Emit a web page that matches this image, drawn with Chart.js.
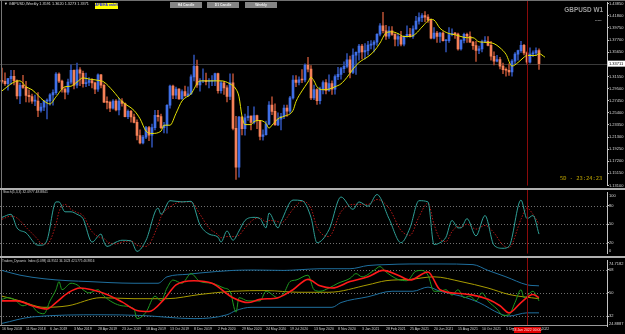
<!DOCTYPE html>
<html>
<head>
<meta charset="utf-8">
<title>GBPUSD Weekly</title>
<script src="https://cdn.jsdelivr.net/npm/chart.js@4.4.1/dist/chart.umd.min.js"></script>
<style>
  html, body { margin: 0; padding: 0; background: #000; }
  #screen { position: relative; width: 625px; height: 334px; overflow: hidden; background: #000;
            font-family: "Liberation Sans", "DejaVu Sans", sans-serif; }
  #screen canvas { position: absolute; left: 0; }
  .line { position: absolute; }
  .txt { position: absolute; white-space: nowrap; line-height: 1; }
  .btn { position: absolute; top: 2px; width: 32px; height: 6px; background: #858585; color: #f0f0f0;
         font-weight: bold; font-size: 3.4px; line-height: 6px; text-align: center; }
</style>
</head>
<body>
<div id="screen">
  <canvas id="price-chart" width="625" height="188" style="top:0"></canvas>
  <canvas id="stoch-chart" width="625" height="66" style="top:190px"></canvas>
  <canvas id="tdi-chart" width="625" height="76" style="top:258px"></canvas>

  <div class="line" style="left:0;top:0;width:625px;height:1px;background:#707070"></div>
  <div class="line" style="left:1px;top:0;width:1px;height:325px;background:#777"></div>
  <div class="line" style="left:0;top:188px;width:625px;height:2px;background:#b0b0b0"></div>
  <div class="line" style="left:0;top:256px;width:625px;height:2px;background:#b0b0b0"></div>
  <div class="line" style="left:0;top:325px;width:607px;height:1px;background:#9a9a9a"></div>

  <div class="txt" id="title" style="left:4px;top:3px;font-size:3.8px;color:#dcdcdc"></div>
  <div class="txt" style="left:95px;top:3px;width:23px;height:5.5px;background:#ffff00;color:#1414ff;font-weight:bold;font-size:3.3px;line-height:5.5px;text-align:center">APB/HA on/off</div>
  <div class="btn" style="left:170px">H4 Candle</div>
  <div class="btn" style="left:207px">D1 Candle</div>
  <div class="btn" style="left:245px">Weekly</div>
  <div class="txt" style="right:22px;top:7px;font-size:6.4px;font-weight:bold;color:#9c9c9c">GBPUSD W1</div>
  <div class="txt" style="left:595px;top:18px;font-size:4px;color:#c8c8c8">-----</div>
  <div class="txt" style="left:560px;top:176px;font-size:5.4px;color:#c2a800;font-family:'DejaVu Sans Mono',monospace">5D - 23:24:23</div>
  <div class="txt" style="left:3px;top:191px;font-size:3.4px;color:#d0d0d0">Stoch(5,3,3) 32.0977 48.8841</div>
  <div class="txt" style="left:2px;top:259.5px;font-size:3.1px;color:#d0d0d0">Traders_Dynamic_Index (0.098) 44.9552 34.1623 42.5775 46.9816</div>
</div>

<script>
// weekly bars, 16 Sep 2018 .. 20 Feb 2022
const tickWeeks = [0, 8, 16, 24, 32, 40, 48, 56, 64, 72, 80, 88, 96, 104, 112, 120, 128, 136, 144, 152, 160, 168, 176];
const dateLabels = ['16 Sep 2018', '11 Nov 2018', '6 Jan 2019', '3 Mar 2019', '28 Apr 2019', '23 Jun 2019',
  '18 Aug 2019', '13 Oct 2019', '8 Dec 2019', '2 Feb 2020', '29 Mar 2020', '24 May 2020', '19 Jul 2020',
  '13 Sep 2020', '8 Nov 2020', '3 Jan 2021', '28 Feb 2021', '25 Apr 2021', '20 Jun 2021', '15 Aug 2021',
  '10 Oct 2021', '5 Dec 2021', '30 Jan 2022'];

const openPrices = [
  1.3075,1.3070,1.3032,1.3118,1.3155,1.3085,1.2825,1.3003,1.2970,1.2834,
  1.2812,1.2736,1.2737,1.2580,1.2636,1.2737,1.2742,1.2843,1.2880,1.3193,
  1.3076,1.2939,1.2890,1.3058,1.3260,1.3007,1.3265,1.3209,1.3033,1.3052,
  1.3084,1.3045,1.2938,1.3180,1.3005,1.2720,1.2717,1.2620,1.2740,1.2590,
  1.2740,1.2697,1.2473,1.2566,1.2469,1.2378,1.2156,1.2032,1.2127,1.2288,
  1.2162,1.2289,1.2496,1.2474,1.2289,1.2326,1.2668,1.2990,1.2838,1.2940,
  1.2773,1.2897,1.2826,1.2859,1.3147,1.3326,1.3010,1.3074,1.3080,1.3067,
  1.3072,1.3077,1.3203,1.2916,1.3045,1.2962,1.2817,1.3047,1.2277,1.1621,
  1.2469,1.2270,1.2456,1.2484,1.2375,1.2493,1.2405,1.2138,1.2168,1.2347,
  1.2670,1.2565,1.2335,1.2430,1.2482,1.2620,1.2567,1.2793,1.3095,1.3053,
  1.3098,1.3094,1.3346,1.3278,1.2790,1.2932,1.2744,1.2939,1.3052,1.2917,
  1.3036,1.2940,1.3151,1.3189,1.3288,1.3325,1.3436,1.3223,1.3516,1.3562,
  1.3670,1.3568,1.3591,1.3685,1.3695,1.3736,1.3869,1.4012,1.3928,1.3835,
  1.3926,1.3867,1.3785,1.3831,1.3701,1.3834,1.3868,1.3830,1.3960,1.4090,
  1.4151,1.4186,1.4159,1.4110,1.3804,1.3890,1.3830,1.3890,1.3758,1.3760,
  1.3864,1.3885,1.3870,1.3621,1.3764,1.3868,1.3835,1.3735,1.3675,1.3595,
  1.3620,1.3746,1.3750,1.3680,1.3497,1.3412,1.3440,1.3330,1.3270,1.3260,
  1.3232,1.3413,1.3531,1.3591,1.3680,1.3553,1.3398,1.3535,1.3554,1.3591];
const highPrices = [
  1.3298,1.3215,1.3123,1.3258,1.3257,1.3097,1.3042,1.3175,1.3073,1.2928,
  1.2855,1.2840,1.2880,1.2700,1.2745,1.2775,1.2865,1.2930,1.3218,1.3215,
  1.3095,1.2960,1.3110,1.3350,1.3265,1.3380,1.3305,1.3245,1.3210,1.3135,
  1.3120,1.3060,1.3200,1.3190,1.3030,1.2810,1.2740,1.2765,1.2765,1.2785,
  1.2780,1.2710,1.2590,1.2580,1.2520,1.2420,1.2250,1.2160,1.2310,1.2310,
  1.2350,1.2580,1.2580,1.2520,1.2380,1.2680,1.3010,1.3010,1.2975,1.2950,
  1.2930,1.2990,1.2980,1.3180,1.3515,1.3430,1.3120,1.3285,1.3210,1.3120,
  1.3170,1.3210,1.3210,1.3070,1.3070,1.3000,1.3200,1.3200,1.2480,1.2480,
  1.2480,1.2520,1.2650,1.2490,1.2640,1.2500,1.2410,1.2250,1.2400,1.2730,
  1.2810,1.2690,1.2540,1.2530,1.2670,1.2670,1.2820,1.3170,1.3170,1.3150,
  1.3270,1.3370,1.3480,1.3340,1.3010,1.2950,1.2975,1.3080,1.3100,1.3180,
  1.3080,1.3180,1.3310,1.3310,1.3400,1.3540,1.3500,1.3620,1.3570,1.3700,
  1.3700,1.3710,1.3750,1.3760,1.3760,1.3880,1.4050,1.4241,1.4020,1.4000,
  1.4000,1.3880,1.3880,1.3920,1.3840,1.4010,1.3970,1.4010,1.4170,1.4230,
  1.4220,1.4250,1.4200,1.4130,1.3980,1.3920,1.3900,1.3910,1.3780,1.3980,
  1.3960,1.3900,1.3890,1.3780,1.3890,1.3890,1.3910,1.3750,1.3750,1.3670,
  1.3770,1.3830,1.3830,1.3750,1.3570,1.3510,1.3480,1.3380,1.3300,1.3370,
  1.3440,1.3560,1.3600,1.3750,1.3700,1.3570,1.3640,1.3590,1.3640,1.3620];
const lowPrices = [
  1.3040,1.3002,1.2922,1.3021,1.3011,1.2775,1.2696,1.2950,1.2723,1.2720,
  1.2700,1.2660,1.2476,1.2550,1.2575,1.2438,1.2670,1.2670,1.2850,1.3050,
  1.2890,1.2773,1.2850,1.3030,1.2945,1.2960,1.3000,1.2975,1.2980,1.3000,
  1.2960,1.2865,1.2900,1.2960,1.2710,1.2605,1.2560,1.2600,1.2570,1.2505,
  1.2650,1.2470,1.2440,1.2380,1.2370,1.2080,1.2015,1.2015,1.2100,1.2070,
  1.1960,1.2250,1.2400,1.2270,1.2200,1.2195,1.2620,1.2780,1.2780,1.2765,
  1.2770,1.2820,1.2820,1.2850,1.3080,1.2970,1.2905,1.3050,1.3010,1.2960,
  1.3000,1.3000,1.2870,1.2870,1.2850,1.2725,1.2760,1.2250,1.1412,1.1450,
  1.2165,1.2160,1.2410,1.2250,1.2350,1.2270,1.2080,1.2075,1.2160,1.2340,
  1.2510,1.2330,1.2320,1.2250,1.2440,1.2480,1.2530,1.2770,1.2980,1.3010,
  1.3050,1.3060,1.3230,1.2760,1.2760,1.2680,1.2690,1.2860,1.2860,1.2900,
  1.2850,1.2855,1.3100,1.3110,1.3220,1.3300,1.3130,1.3200,1.3190,1.3430,
  1.3450,1.3450,1.3520,1.3620,1.3570,1.3680,1.3840,1.3890,1.3780,1.3800,
  1.3850,1.3670,1.3670,1.3670,1.3670,1.3820,1.3820,1.3800,1.3950,1.4040,
  1.4080,1.4080,1.4070,1.3790,1.3790,1.3730,1.3730,1.3750,1.3570,1.3730,
  1.3840,1.3800,1.3600,1.3600,1.3720,1.3730,1.3730,1.3610,1.3410,1.3540,
  1.3570,1.3730,1.3670,1.3430,1.3350,1.3400,1.3280,1.3200,1.3160,1.3170,
  1.3160,1.3370,1.3430,1.3560,1.3520,1.3360,1.3380,1.3490,1.3510,1.3273];
const closePrices = [
  1.3070,1.3032,1.3118,1.3155,1.3085,1.2825,1.3003,1.2970,1.2834,1.2812,
  1.2736,1.2737,1.2580,1.2636,1.2737,1.2742,1.2843,1.2880,1.3193,1.3076,
  1.2939,1.2890,1.3058,1.3260,1.3007,1.3265,1.3209,1.3033,1.3052,1.3084,
  1.3045,1.2938,1.3180,1.3005,1.2720,1.2717,1.2620,1.2740,1.2590,1.2740,
  1.2697,1.2473,1.2566,1.2469,1.2378,1.2156,1.2032,1.2127,1.2288,1.2162,
  1.2289,1.2496,1.2474,1.2289,1.2326,1.2668,1.2990,1.2838,1.2940,1.2773,
  1.2897,1.2826,1.2859,1.3147,1.3326,1.3010,1.3074,1.3080,1.3067,1.3072,
  1.3077,1.3203,1.2916,1.3045,1.2962,1.2817,1.3047,1.2277,1.1621,1.2469,
  1.2270,1.2456,1.2484,1.2375,1.2493,1.2405,1.2138,1.2168,1.2347,1.2670,
  1.2565,1.2335,1.2430,1.2482,1.2620,1.2567,1.2793,1.3095,1.3053,1.3098,
  1.3094,1.3346,1.3278,1.2790,1.2932,1.2744,1.2939,1.3052,1.2917,1.3036,
  1.2940,1.3151,1.3189,1.3288,1.3325,1.3436,1.3223,1.3516,1.3562,1.3670,
  1.3568,1.3591,1.3685,1.3695,1.3736,1.3869,1.4012,1.3928,1.3835,1.3926,
  1.3867,1.3785,1.3831,1.3701,1.3834,1.3868,1.3830,1.3960,1.4090,1.4151,
  1.4186,1.4159,1.4110,1.3804,1.3890,1.3830,1.3890,1.3758,1.3760,1.3864,
  1.3885,1.3870,1.3621,1.3764,1.3868,1.3835,1.3735,1.3675,1.3595,1.3620,
  1.3746,1.3750,1.3680,1.3497,1.3412,1.3440,1.3330,1.3270,1.3260,1.3232,
  1.3413,1.3531,1.3591,1.3680,1.3553,1.3398,1.3535,1.3554,1.3591,1.3371];

// yellow average on the price panel
const maWeeks = [0,4,6,8,10,14,16,18,21,23,25,27,29,33,34,37,40,44,46,48,50,53,54,56,58,60,63,66,69,73,
  76,78,79,80,81,83,84,86,88,89,90,92,94,97,98,100,102,103,104,105,107,109,111,113,115,117,119,122,124,126,
  128,130,132,134,136,138,140,143,144,146,149,151,153,155,157,159,162,164,166,168,170,172,174,175,178,179,181];
const maValues = [1.291,1.306,1.308,1.298,1.293,1.274,1.269,1.281,1.298,1.299,1.306,1.313,1.311,1.308,1.306,
  1.291,1.273,1.258,1.244,1.223,1.219,1.223,1.233,1.233,1.253,1.274,1.286,1.308,1.308,1.308,1.303,1.294,1.281,
  1.248,1.234,1.234,1.239,1.241,1.236,1.228,1.233,1.244,1.248,1.258,1.273,1.291,1.306,1.314,1.308,1.298,1.293,
  1.294,1.298,1.303,1.314,1.328,1.339,1.349,1.358,1.372,1.389,1.391,1.388,1.383,1.383,1.388,1.399,1.412,1.411,
  1.397,1.388,1.386,1.383,1.381,1.381,1.374,1.373,1.371,1.364,1.353,1.333,1.339,1.348,1.351,1.351,1.354,1.348];

const priceTicks = [1.4385, 1.418, 1.3975, 1.377, 1.3565, 1.3155, 1.295, 1.2745, 1.254, 1.2335, 1.213, 1.1925, 1.172, 1.1515, 1.131];
const bidPrice = 1.33711;
const markerWeek = 175;

// stochastic (5,3,3)
const stochWeeks = [0,3,5,8,12,13,15,18,19,21,23,25,27,30,33,34,35,38,40,43,45,48,52,53,56,60,63,66,69,72,
  73,75,77,79,81,84,86,88,89,92,93,97,100,103,105,109,113,117,119,122,125,129,133,136,139,142,144,146,148,150,
  152,153,155,158,161,164,167,169,173,175,177,179];
const stochMain = [61,66,44,36,16,16,24,86,86,70,70,66,59,21,34,21,14,21,24,23,6,24,76,66,88,86,87,49,34,29,
  21,39,24,39,56,61,59,44,68,44,54,89,88,61,20,41,94,74,86,79,98,59,20,44,88,86,17,20,29,56,
  44,44,59,31,64,16,11,14,89,59,64,34];
const stochSignal = [58,63,60,45,25,19,18,50,70,82,74,69,64,38,28,27,22,18,21,23,16,14,48,62,78,86,86,66,44,33,
  28,30,30,32,44,58,60,54,56,54,52,74,87,76,45,30,70,82,82,82,90,76,40,32,62,84,50,26,22,38,
  46,45,50,42,48,36,16,12,58,76,66,50];
const stochLevels = [80, 50, 20];

// Traders Dynamic Index
const tdiUpperWeeks = [0,6,14,22,29,36,44,52,55,62,66,77,84,94,99,106,116,122,128,136,146,157,162,168,175,179];
const tdiUpper = [67.5,63.8,61,59.5,58.8,58,57.5,57.5,62.5,64.5,65.5,67.5,67.8,67.5,68,68.8,68.8,71.3,72,72.5,72.5,72,67.5,62.5,56.3,55.5];
const tdiLowerWeeks = [0,10,33,46,64,75,78,83,110,113,122,130,137,142,146,153,159,166,169,175,179];
const tdiLower = [26.3,31.3,33,32.5,30,33,36.3,38.8,38.8,42.5,47,51.3,51.3,54.5,51.3,47.5,42.5,33.8,32,34.5,34.5];
const tdiBaseWeeks = [0,6,14,22,33,44,55,66,77,88,99,109,122,128,136,144,153,162,169,179];
const tdiBase = [47.5,43.8,38.8,40,46.3,45.5,45.5,48.8,51.3,51.8,50.5,50.5,56.3,59.5,60.5,62.5,58.8,53.8,48.8,45.5];
const tdiSignalWeeks = [0,5,10,15,18,22,26,30,35,40,45,49,54,58,64,70,77,82,86,92,97,102,106,110,116,122,127,132,136,142,146,153,157,162,166,169,173,177,179];
const tdiSignal = [43.8,43.8,40,37.5,42.5,50,53.8,52.5,48.8,43,36.3,35.5,45,56.3,59.5,57.5,46.3,42.5,45,46.3,52.5,60.5,55.5,53.8,58.8,62.5,67.5,63.8,60,66.3,52.5,49.5,48.3,45,40,34.5,42.5,48.8,46.3];
const tdiRsiWeeks = [0,2,4,7,9,12,14,16,18,19,20,23,25,27,29,32,34,37,40,44,45,48,51,53,55,57,60,63,66,70,
  74,76,78,79,82,86,88,92,94,96,98,102,104,106,109,112,116,118,120,124,126,128,132,135,138,140,142,144,146,148,
  150,152,154,156,158,160,162,165,167,169,171,173,174,177,179];
const tdiRsi = [45,46.3,45,40,41.3,35,33.8,43.8,52.5,58.8,52.5,57.5,56.3,52.5,50,52.5,47.5,42.5,40,37.5,
  30,35,47.5,43.8,53.8,60,57.5,65,58.8,57.5,53.8,51.3,35,46.3,43.8,43.8,51.3,46.3,50,58.8,
  60,63.8,52.5,51.3,53.8,57.5,61.3,65,62.5,67.5,70.5,66.3,60.5,59.5,67,67.5,63.8,51.3,51.3,52.5,
  48.3,52.5,46.3,47.5,43.8,50,43.8,37.5,32.5,33,42.5,52.5,46.3,51.3,43.8];
const tdiLevels = [68, 50, 32];

const uiFont = '"Liberation Sans", "DejaVu Sans", sans-serif';
const xMin = -0.667, xMax = 201.667;   // 3 px per weekly bar

const weekIndex = closePrices.map((_, i) => i);
const pairs = (xs, ys) => xs.map((x, k) => ({ x, y: ys[k] }));
const last = closePrices.length - 1;
document.getElementById('title').textContent = '\u25BC GBPUSD,Weekly  ' +
  [openPrices[last], highPrices[last], lowPrices[last], closePrices[last]].map(v => v.toFixed(4)).join(' ');

// dotted levels, bid line, red time line, edge labels
const decor = {
  id: 'decor',
  beforeDatasetsDraw(chart, args, opts) {
    const { ctx, chartArea: a, scales: { y } } = chart;
    ctx.save();
    ctx.lineWidth = 1;
    if (opts.levels) {
      ctx.strokeStyle = '#707070';
      ctx.setLineDash([1, 2]);
      opts.levels.forEach(v => {
        const py = Math.round(y.getPixelForValue(v)) + 0.5;
        ctx.beginPath(); ctx.moveTo(a.left, py); ctx.lineTo(a.right, py); ctx.stroke();
      });
      ctx.setLineDash([]);
    }
    if (opts.bid) {
      const py = Math.round(y.getPixelForValue(opts.bid)) + 0.5;
      ctx.strokeStyle = '#3a3a3a';
      ctx.beginPath(); ctx.moveTo(a.left, py); ctx.lineTo(a.right, py); ctx.stroke();
    }
    ctx.restore();
  },
  afterDatasetsDraw(chart) {
    const { ctx, chartArea: a, scales: { x } } = chart;
    const px = Math.round(x.getPixelForValue(markerWeek)) + 0.5;
    ctx.save();
    ctx.strokeStyle = '#8a0b0b';
    ctx.lineWidth = 1;
    ctx.beginPath(); ctx.moveTo(px, 0); ctx.lineTo(px, a.bottom); ctx.stroke();
    ctx.restore();
  },
  afterDraw(chart, args, opts) {
    const { ctx, chartArea: a, scales: { x, y } } = chart;
    ctx.save();
    ctx.font = '4px ' + uiFont;
    ctx.textBaseline = 'middle';
    ctx.textAlign = 'left';
    if (opts.edgeLabels) {
      ctx.fillStyle = '#d8d8d8';
      ctx.fillText(opts.edgeLabels[0], a.right + 2, a.top + 3);
      ctx.fillText(opts.edgeLabels[1], a.right + 2, a.bottom - 2.5);
    }
    if (opts.bid) {
      const py = y.getPixelForValue(opts.bid);
      ctx.fillStyle = '#ffffff';
      ctx.fillRect(a.right + 1, py - 3, 17, 6);
      ctx.fillStyle = '#000000';
      ctx.fillText(opts.bid.toFixed(5), a.right + 2, py);
    }
    if (opts.timeText) {
      const px = x.getPixelForValue(markerWeek);
      ctx.fillStyle = '#e00000';
      ctx.fillRect(px - 13, a.bottom + 1, 27, 6);
      ctx.fillStyle = '#ffd8d8';
      ctx.textAlign = 'center';
      ctx.font = '3.5px ' + uiFont;
      ctx.fillText(opts.timeText, px, a.bottom + 4);
    }
    ctx.restore();
  }
};

function rightAxis(min, max, ticks, fmt) {
  return {
    type: 'linear', position: 'right', min, max,
    afterFit: s => { s.width = 18; },
    afterBuildTicks: s => { s.ticks = ticks.map(v => ({ value: v })); },
    border: { display: true, color: '#c4c4c4', width: 1 },
    grid: { drawOnChartArea: false, color: '#c4c4c4', tickLength: 2 },
    ticks: { color: '#d8d8d8', font: { size: 4, family: uiFont }, padding: 0, autoSkip: false, callback: fmt }
  };
}
const hiddenX = { type: 'linear', min: xMin, max: xMax, display: false, offset: false };
const baseOptions = {
  responsive: false, animation: false, devicePixelRatio: 1, events: []
};

// price panel
new Chart(document.getElementById('price-chart'), {
  type: 'bar',
  data: {
    datasets: [
      { type: 'line', data: pairs(maWeeks, maValues), borderColor: '#e6e200', borderWidth: 1,
        pointRadius: 0, cubicInterpolationMode: 'monotone', order: 0 },
      { data: weekIndex.map(i => ({ x: i, y: [openPrices[i], closePrices[i]] })),
        backgroundColor: weekIndex.map(i => closePrices[i] >= openPrices[i] ? '#3f6fe6' : '#f58158'),
        barThickness: 2, minBarLength: 1, grouped: false, order: 1 },
      { data: weekIndex.map(i => ({ x: i, y: [lowPrices[i], highPrices[i]] })),
        backgroundColor: weekIndex.map(i => closePrices[i] >= openPrices[i] ? '#2c4ca6' : '#aa4a30'),
        barThickness: 1, grouped: false, order: 2 }
    ]
  },
  options: {
    ...baseOptions,
    layout: { padding: { top: 2, right: 0, bottom: 0, left: 0 } },
    plugins: { legend: { display: false }, tooltip: { enabled: false }, decor: { bid: bidPrice } },
    scales: { x: hiddenX, y: rightAxis(1.1308, 1.44074, priceTicks, v => v.toFixed(5)) }
  },
  plugins: [decor]
});

// stochastic panel
new Chart(document.getElementById('stoch-chart'), {
  type: 'line',
  data: {
    datasets: [
      { data: pairs(stochWeeks, stochMain), borderColor: '#2f9f96', borderWidth: 1, pointRadius: 0,
        cubicInterpolationMode: 'monotone', order: 0 },
      { data: pairs(stochWeeks, stochSignal), borderColor: '#b31818', borderWidth: 1, borderDash: [1.5, 1.5],
        pointRadius: 0, cubicInterpolationMode: 'monotone', order: 1 }
    ]
  },
  options: {
    ...baseOptions,
    layout: { padding: 0 },
    plugins: { legend: { display: false }, tooltip: { enabled: false },
      decor: { levels: stochLevels, edgeLabels: ['100', '0'] } },
    scales: { x: hiddenX, y: rightAxis(2.4, 101.4, stochLevels, v => String(v)) }
  },
  plugins: [decor]
});

// TDI panel with the date axis
new Chart(document.getElementById('tdi-chart'), {
  type: 'line',
  data: {
    datasets: [
      { data: pairs(tdiUpperWeeks, tdiUpper), borderColor: '#1f6f9e', borderWidth: 1, pointRadius: 0,
        cubicInterpolationMode: 'monotone', order: 4 },
      { data: pairs(tdiLowerWeeks, tdiLower), borderColor: '#1f6f9e', borderWidth: 1, pointRadius: 0,
        cubicInterpolationMode: 'monotone', order: 4 },
      { data: pairs(tdiBaseWeeks, tdiBase), borderColor: '#a89c00', borderWidth: 1, pointRadius: 0,
        cubicInterpolationMode: 'monotone', order: 3 },
      { data: pairs(tdiRsiWeeks, tdiRsi), borderColor: '#1f9a1f', borderWidth: 1, pointRadius: 0,
        cubicInterpolationMode: 'monotone', order: 2 },
      { data: pairs(tdiSignalWeeks, tdiSignal), borderColor: '#ff1a1a', borderWidth: 1.6, pointRadius: 0,
        cubicInterpolationMode: 'monotone', order: 1 }
    ]
  },
  options: {
    ...baseOptions,
    layout: { padding: 0 },
    plugins: { legend: { display: false }, tooltip: { enabled: false },
      decor: { levels: tdiLevels, edgeLabels: ['74.7182', '24.8887'], timeText: '23 Jan 2022 00:00' } },
    scales: {
      x: {
        type: 'linear', position: 'bottom', min: xMin, max: xMax, offset: false,
        afterFit: s => { s.height = 8; },
        afterBuildTicks: s => { s.ticks = tickWeeks.map(v => ({ value: v })); },
        border: { display: false },
        grid: { drawOnChartArea: false, drawTicks: false },
        ticks: { color: '#d0d0d0', font: { size: 3.5, family: uiFont }, padding: 1, align: 'start',
          maxRotation: 0, autoSkip: false, callback: (v, i) => dateLabels[i] }
      },
      y: rightAxis(24.27, 75.28, tdiLevels, v => String(v))
    }
  },
  plugins: [decor]
});
</script>
</body>
</html>
